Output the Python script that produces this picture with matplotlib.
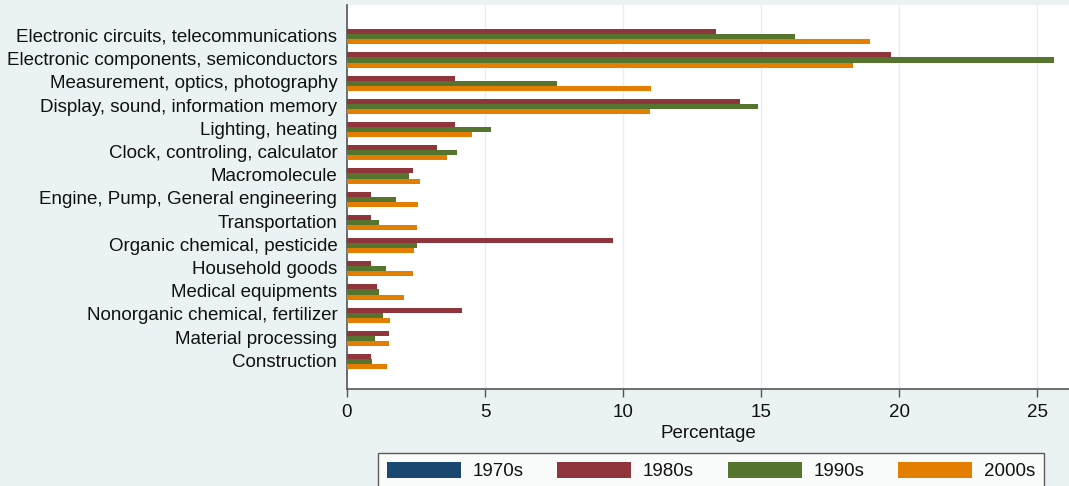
import numpy as np
import matplotlib
matplotlib.use("Agg")
import matplotlib.pyplot as plt

plt.rcParams['font.family'] = ['Liberation Sans', 'DejaVu Sans']

# 技术领域
categories = [
    "Electronic circuits, telecommunications",
    "Electronic components, semiconductors",
    "Measurement, optics, photography",
    "Display, sound, information memory",
    "Lighting, heating",
    "Clock, controling, calculator",
    "Macromolecule",
    "Engine, Pump, General engineering",
    "Transportation",
    "Organic chemical, pesticide",
    "Household goods",
    "Medical equipments",
    "Nonorganic chemical, fertilizer",
    "Material processing",
    "Construction",
]

# 各年代百分比
s1970 = [0, 0, 0, 0, 0, 0, 0, 0, 0, 0, 0, 0, 0, 0, 0]
s1980 = [13.37, 19.69, 3.92, 14.24, 3.92, 3.25, 2.39, 0.87, 0.87, 9.63, 0.87, 1.07, 4.17, 1.53, 0.87]
s1990 = [16.24, 25.60, 7.61, 14.88, 5.20, 3.99, 2.23, 1.77, 1.17, 2.52, 1.41, 1.17, 1.29, 1.00, 0.92]
s2000 = [18.95, 18.33, 11.02, 10.98, 4.53, 3.63, 2.64, 2.56, 2.52, 2.42, 2.39, 2.05, 1.57, 1.53, 1.45]

series = [("1970s", s1970, "#1a476f"),
          ("1980s", s1980, "#90353b"),
          ("1990s", s1990, "#55752f"),
          ("2000s", s2000, "#e37e00")]

fs = 13.5
bg = "#eaf2f3"
fig = plt.figure(figsize=(10.69, 4.86), dpi=100, facecolor=bg)
ax = fig.add_axes([347 / 1069, (486 - 389) / 486, 1 - 347 / 1069, (389 - 5) / 486])
ax.set_facecolor("white")

y = np.arange(len(categories))
h = 0.22
for i, (name, vals, col) in enumerate(series):
    ax.barh(y + (i - 1.5) * h, vals, height=h, color=col, label=name, zorder=3)

ax.set_xlim(0, 26.15)
ax.set_ylim(15.29, -1.26)
ax.set_yticks(y + 0.05)
ax.set_yticklabels(categories, fontsize=fs, color="#111111")
ax.tick_params(axis="y", length=0, pad=7)
ax.set_xticks([0, 5, 10, 15, 20, 25])
ax.tick_params(axis="x", length=6, width=1, color="#555555", labelsize=fs,
               labelcolor="#111111", pad=4.5)
ax.set_xlabel("Percentage", fontsize=fs, color="#111111", labelpad=3.5)
ax.grid(axis="x", color="#e6eef0", linewidth=1, zorder=0)

for side in ["top", "right"]:
    ax.spines[side].set_visible(False)
for side in ["left", "bottom"]:
    ax.spines[side].set_color("#555555")
    ax.spines[side].set_linewidth(1.2)

leg = fig.legend(loc="upper center", bbox_to_anchor=(711 / 1069, 1 - 453 / 486),
                 ncol=4, fontsize=fs, frameon=True, fancybox=False,
                 edgecolor="#333333", handlelength=3.95, handleheight=1.0,
                 handletextpad=0.62, columnspacing=1.8, borderpad=0.46,
                 borderaxespad=0)
leg.get_frame().set_linewidth(1.0)
for t in leg.get_texts():
    t.set_color("#111111")

fig.savefig("out.png", dpi=100, facecolor=bg)
